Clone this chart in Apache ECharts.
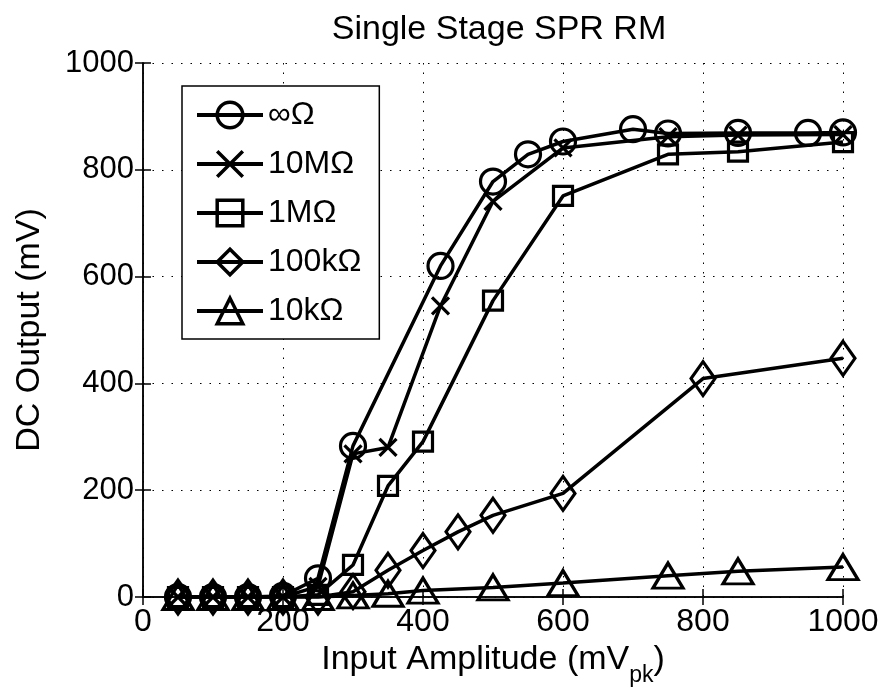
<!DOCTYPE html>
<html><head><meta charset="utf-8">
<script src="https://cdn.jsdelivr.net/npm/echarts@6/dist/echarts.min.js"></script>
<style>html,body{margin:0;padding:0;background:#fff}#c{width:888px;height:698px}</style>
</head><body><div id="c"></div>
<script>
var seriesNames = ['∞Ω', '10MΩ', '1MΩ', '100kΩ', '10kΩ'];
var xInf  = [50,100,150,200,250,300,425,500,550,600,700,750,850,950,1000];
var yInf  = [0,0,0,2,35,283,620,778,829,853,876,868,869,869,870];
var x10M  = [50,100,150,200,250,300,350,425,500,600,750,850,1000];
var y10M  = [0,0,0,0,20,268,280,545,741,841,862,865,866];
var x1M   = [50,100,150,200,250,300,350,400,500,600,750,850,1000];
var y1M   = [0,0,0,0,4,60,208,291,555,751,829,834,852];
var x100k = [50,100,150,200,250,300,350,400,450,500,600,800,1000];
var y100k = [0,0,0,0,0,10,50,87,122,153,194,409,447];
var x10k  = [50,100,150,200,250,300,350,400,500,600,750,850,1000];
var y10k  = [0,0,0,0,0,3,6,12,18,26,40,48,56];
var xTicks = [0,200,400,600,800,1000];
var yTicks = [0,200,400,600,800,1000];

function zip(xs, ys){ return xs.map(function(x,i){ return [x, ys[i]]; }); }
var FONT = 'Liberation Sans, Arial, Helvetica, sans-serif';
var symbols = ['circle', 'path://M0,0L10,10M0,10L10,0', 'rect', 'diamond', 'triangle'];
var sizes = [25, 17, 19, [24,34], [30,25]];
var datas = [zip(xInf,yInf), zip(x10M,y10M), zip(x1M,y1M), zip(x100k,y100k), zip(x10k,y10k)];

var series = seriesNames.map(function(n,i){
  return {
    name: n, type: 'line', data: datas[i],
    symbol: symbols[i], symbolSize: sizes[i],
    lineStyle: {color:'#000', width: 3.5},
    itemStyle: {color:'rgba(0,0,0,0)', borderColor:'#000', borderWidth: 3.2},
    emphasis: {disabled: true}, silent: true
  };
});

var chart = echarts.init(document.getElementById('c'));
chart.setOption({
  animation: false,
  backgroundColor: '#fff',
  title: {text: 'Single Stage SPR RM', left: 494, top: 8, textAlign: 'center',
    textStyle: {fontFamily: FONT, fontSize: 34, fontWeight: 'normal', color: '#000'}},
  grid: {left: 143, right: 45, top: 63, bottom: 101},
  legend: {
    orient: 'vertical', left: 182, top: 86,
    data: seriesNames,
    itemWidth: 66, itemHeight: 32, itemGap: 17,
    padding: [13, 18, 12, 13],
    borderColor: '#000', borderWidth: 1.5, backgroundColor: '#fff',
    lineStyle: {color: '#000', width: 4},
    itemStyle: {color: 'rgba(0,0,0,0)', borderColor: '#000', borderWidth: 3.5},
    textStyle: {fontFamily: FONT, fontSize: 32, lineHeight: 32, color: '#000'},
    selectedMode: false
  },
  xAxis: [{
    type: 'value', min: 0, max: 1000, interval: 200,
    axisLine: {show: true, onZero: false, lineStyle: {color:'#000', width: 1.5}},
    axisTick: {inside: true, length: 8, lineStyle: {color:'#000', width: 1.5}},
    axisLabel: {fontFamily: FONT, fontSize: 32, color:'#000', margin: 9,
      formatter: function(v){ return xTicks.indexOf(v) >= 0 ? String(v) : ''; }},
    splitLine: {show: true, lineStyle: {color:'#000', type: [1.5, 8], width: 1}},
    name: '{a|Input Amplitude (mV}{s|pk}{a|)}', nameLocation: 'middle', nameGap: 46,
    nameTextStyle: {rich: {
      a: {fontFamily: FONT, fontSize: 34, color:'#000', lineHeight: 44, verticalAlign: 'top'},
      s: {fontFamily: FONT, fontSize: 23, color:'#000', lineHeight: 44, verticalAlign: 'bottom'}
    }}
  }, {
    type: 'value', min: 0, max: 1000, interval: 200, position: 'top',
    axisLine: {show: true, lineStyle: {color:'#000', width: 1.5}},
    axisTick: {inside: true, length: 8, lineStyle: {color:'#000', width: 1.5}},
    axisLabel: {show: false}, splitLine: {show: false}
  }],
  yAxis: [{
    type: 'value', min: 0, max: 1000, interval: 200,
    axisLine: {show: true, onZero: false, lineStyle: {color:'#000', width: 1.5}},
    axisTick: {inside: true, length: 8, lineStyle: {color:'#000', width: 1.5}},
    axisLabel: {fontFamily: FONT, fontSize: 31, color:'#000', margin: 9,
      formatter: function(v){ return yTicks.indexOf(v) >= 0 ? String(v) : ''; }},
    splitLine: {show: true, lineStyle: {color:'#000', type: [1.5, 8], width: 1}},
    name: 'DC Output (mV)', nameLocation: 'middle', nameGap: 96, nameRotate: 90,
    nameTextStyle: {fontFamily: FONT, fontSize: 34, color:'#000'}
  }, {
    type: 'value', min: 0, max: 1000, interval: 200, position: 'right',
    axisLine: {show: true, lineStyle: {color:'#000', width: 1.5}},
    axisTick: {inside: true, length: 8, lineStyle: {color:'#000', width: 1.5}},
    axisLabel: {show: false}, splitLine: {show: false}
  }],
  series: series
});
</script></body></html>
